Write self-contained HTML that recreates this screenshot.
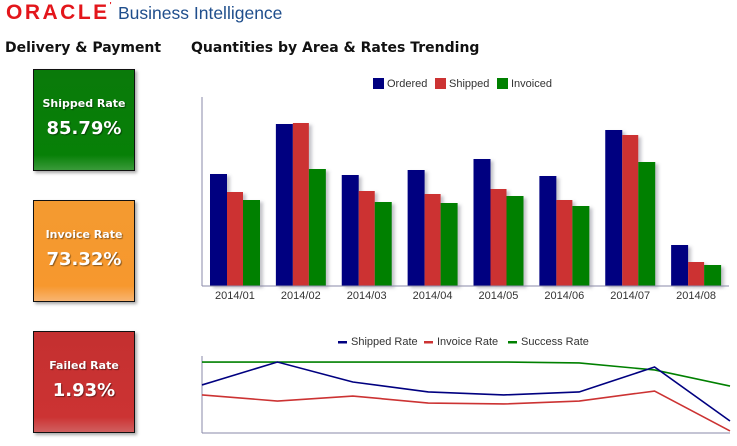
<!DOCTYPE html>
<html><head><meta charset="utf-8"><style>
body{margin:0;width:737px;height:446px;background:#fff;font-family:"Liberation Sans","DejaVu Sans",sans-serif;position:relative;overflow:hidden}
.abs{position:absolute}
.card{position:absolute;left:33px;width:100px;height:100px;border:1px solid #111;box-shadow:2px 2px 3px rgba(0,0,0,.35);color:#fff;text-align:center;font-family:"DejaVu Sans",sans-serif;text-shadow:1px 1px 1px rgba(0,0,0,.45)}
.card .t{margin-top:27px;font-size:11px;font-weight:bold}
.card .v{margin-top:8px;font-size:18px;font-weight:bold}
h2{position:absolute;margin:0;font-size:14px;font-weight:bold;font-family:"DejaVu Sans",sans-serif;color:#111}
</style></head><body>
<div class="abs" style="left:6px;top:1px;font-size:21px;font-weight:bold;color:#e3161b;letter-spacing:2.5px;font-family:'Liberation Sans',sans-serif">ORACLE<span style="font-size:8px;vertical-align:top">'</span></div>
<div class="abs" style="left:118px;top:3px;font-size:17.5px;color:#1f4e8c">Business Intelligence</div>
<h2 style="left:5px;top:40px">Delivery &amp; Payment</h2>
<h2 style="left:191px;top:40px">Quantities by Area &amp; Rates Trending</h2>
<div class="card" style="top:69px;background:linear-gradient(#0a7a0a,#078007 85%,#3a9a3a)"><div class="t">Shipped Rate</div><div class="v">85.79%</div></div>
<div class="card" style="top:200px;background:linear-gradient(#f39a30,#f7982e 85%,#f8b470)"><div class="t">Invoice Rate</div><div class="v">73.32%</div></div>
<div class="card" style="top:331px;background:linear-gradient(#c43030,#cc3333 85%,#d06060)"><div class="t">Failed Rate</div><div class="v">1.93%</div></div>
<svg id="bars" class="abs" style="left:0;top:0" width="737" height="446"></svg>
<script>
const categories=["2014/01","2014/02","2014/03","2014/04","2014/05","2014/06","2014/07","2014/08"];
const ordered=[112,162,111,116,127,110,156,41];
const shipped=[94,163,95,92,97,86,151,24];
const invoiced=[86,117,84,83,90,80,124,21];
const shippedRate=[80.8,95.5,82.7,76.3,74.4,76.3,92.3,57.7];
const invoiceRate=[74.4,70.5,73.7,69.2,68.6,70.5,76.9,51.3];
const successRate=[95.5,95.5,95.5,95.5,95.5,94.9,90.4,80.1];
const NS="http://www.w3.org/2000/svg";
const svg=document.getElementById('bars');
function mk(tag,attrs,parent){const e=document.createElementNS(NS,tag);for(const k in attrs)e.setAttribute(k,attrs[k]);(parent||svg).appendChild(e);return e;}
const C={o:"#000080",s:"#cc3333",i:"#008000"};
const bx0=202,bx1=729,by0=286,byTop=96,bmax=190;
const band=(bx1-bx0)/categories.length;
const yB=v=>by0-v/bmax*(by0-byTop);
const defs=mk('defs',{});
const f=mk('filter',{id:'sh',x:'-20%',y:'-20%',width:'160%',height:'140%'},defs);
mk('feDropShadow',{dx:3,dy:2,stdDeviation:1.5,'flood-color':'#556','flood-opacity':0.35},f);
const series=[[ordered,C.o,17],[shipped,C.s,16],[invoiced,C.i,17]];
categories.forEach((c,i)=>{
  let x=bx0+i*band+8;
  series.forEach(([arr,col,w],k)=>{
    const r=mk('rect',{x:x,y:yB(arr[i]),width:w,height:by0-yB(arr[i]),fill:col,filter:'url(#sh)'});
    
    
    x+=w;
  });
  const t=mk('text',{x:bx0+i*band+band/2,y:by0+13,'text-anchor':'middle','font-size':11,fill:'#333'});
  t.textContent=c;
  
  
});
mk('line',{x1:bx0,y1:97,x2:bx0,y2:by0,stroke:'#8a8aa8'});
mk('line',{x1:bx0,y1:by0,x2:bx1,y2:by0,stroke:'#8a8aa8'});
function legend(items,y,sq){items.forEach(([x,lab,col])=>{
  const g=mk('g',{});
  
  
  if(sq)mk('rect',{x:x,y:y-9,width:11,height:11,fill:col},g);else mk('rect',{x:x,y:y-4,width:9,height:2.5,fill:col},g);
  const t=mk('text',{x:x+(sq?14:13),y:y,'font-size':11,fill:'#333'},g);t.textContent=lab;});}
legend([[373,'Ordered',C.o],[435,'Shipped',C.s],[497,'Invoiced',C.i]],87,true);
const lx0=202,lx1=730,ly0=433,lyTop=355,lmin=50,lmax=100;
const xL=i=>lx0+i*(lx1-lx0)/(categories.length-1);
const yL=v=>ly0-(v-lmin)/(lmax-lmin)*(ly0-lyTop);
mk('line',{x1:lx0,y1:356,x2:lx0,y2:ly0,stroke:'#8a8aa8'});
mk('line',{x1:lx0,y1:ly0,x2:lx1,y2:ly0,stroke:'#8a8aa8'});
[[successRate,C.i,'success-rate-line'],[invoiceRate,C.s,'invoice-rate-line'],[shippedRate,C.o,'shipped-rate-line']].forEach(([arr,col,n])=>{
  const p=mk('polyline',{points:arr.map((v,i)=>xL(i)+','+yL(v)).join(' '),fill:'none',stroke:col,'stroke-width':1.6});
  
  
});
legend([[338,'Shipped Rate',C.o],[424,'Invoice Rate',C.s],[508,'Success Rate',C.i]],345,false);
</script>
</body></html>
